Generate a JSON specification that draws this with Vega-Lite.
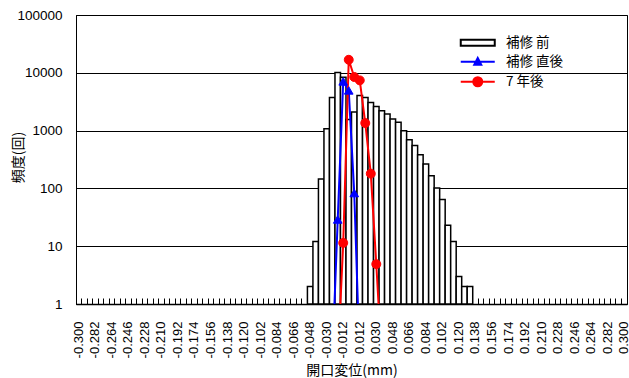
{
  "$schema": "https://vega.github.io/schema/vega-lite/v6.json",
  "width": 551,
  "height": 289,
  "autosize": {"type": "none"},
  "padding": {"left": 76, "top": 15, "right": 2, "bottom": 74},
  "background": "white",
  "config": {
    "view": {"stroke": "black", "strokeWidth": 1},
    "axis": {"labelFont": "Liberation Sans", "labelColor": "black", "titleFont": "Noto Sans CJK JP", "titleColor": "black", "titleFontWeight": "normal", "domainColor": "black", "tickColor": "black"},
    "legend": {
      "title": null,
      "orient": "none",
      "legendX": 395,
      "legendY": 21,
      "padding": 0,
      "symbolSize": 100,
      "symbolStrokeWidth": 2,
      "symbolOpacity": 1,
      "labelFont": "Noto Sans CJK JP",
      "labelFontSize": 13.5,
      "labelColor": "black",
      "labelOffset": 21.5,
      "rowPadding": 4
    }
  },
  "datasets": {
    "hist": [
      {"cat": "-0.048", "count": 2},
      {"cat": "-0.042", "count": 12},
      {"cat": "-0.036", "count": 146},
      {"cat": "-0.030", "count": 1080},
      {"cat": "-0.024", "count": 3750},
      {"cat": "-0.018", "count": 10100},
      {"cat": "-0.012", "count": 8400},
      {"cat": "-0.006", "count": 1550},
      {"cat": "0.006", "count": 2100},
      {"cat": "0.012", "count": 4050},
      {"cat": "0.018", "count": 3750},
      {"cat": "0.024", "count": 3075},
      {"cat": "0.030", "count": 2620},
      {"cat": "0.036", "count": 2210},
      {"cat": "0.042", "count": 1940},
      {"cat": "0.048", "count": 1590},
      {"cat": "0.054", "count": 1390},
      {"cat": "0.060", "count": 995},
      {"cat": "0.066", "count": 697},
      {"cat": "0.072", "count": 555},
      {"cat": "0.078", "count": 383},
      {"cat": "0.084", "count": 264},
      {"cat": "0.090", "count": 166},
      {"cat": "0.096", "count": 102},
      {"cat": "0.102", "count": 64},
      {"cat": "0.108", "count": 23},
      {"cat": "0.114", "count": 12},
      {"cat": "0.120", "count": 3},
      {"cat": "0.126", "count": 2},
      {"cat": "0.132", "count": 2}
    ],
    "lines": [
      {"series": "補修 直後", "cat": "-0.024", "count": 0.1},
      {"series": "補修 直後", "cat": "-0.018", "count": 29},
      {"series": "補修 直後", "cat": "-0.012", "count": 7100},
      {"series": "補修 直後", "cat": "-0.006", "count": 4960},
      {"series": "補修 直後", "cat": "0.006", "count": 83},
      {"series": "補修 直後", "cat": "0.012", "count": 0.1},
      {"series": "7 年後", "cat": "-0.018", "count": 0.1},
      {"series": "7 年後", "cat": "-0.012", "count": 11.4},
      {"series": "7 年後", "cat": "-0.006", "count": 16800},
      {"series": "7 年後", "cat": "0.006", "count": 8460},
      {"series": "7 年後", "cat": "0.012", "count": 7400},
      {"series": "7 年後", "cat": "0.018", "count": 1350},
      {"series": "7 年後", "cat": "0.024", "count": 180},
      {"series": "7 年後", "cat": "0.030", "count": 4.9},
      {"series": "7 年後", "cat": "0.036", "count": 0.1}
    ]
  },
  "encoding": {
    "x": {
      "field": "cat",
      "type": "ordinal",
      "sort": null,
      "scale": {
        "domain": ["-0.300","-0.294","-0.288","-0.282","-0.276","-0.270","-0.264","-0.258","-0.252","-0.246","-0.240","-0.234","-0.228","-0.222","-0.216","-0.210","-0.204","-0.198","-0.192","-0.186","-0.180","-0.174","-0.168","-0.162","-0.156","-0.150","-0.144","-0.138","-0.132","-0.126","-0.120","-0.114","-0.108","-0.102","-0.096","-0.090","-0.084","-0.078","-0.072","-0.066","-0.060","-0.054","-0.048","-0.042","-0.036","-0.030","-0.024","-0.018","-0.012","-0.006","0.006","0.012","0.018","0.024","0.030","0.036","0.042","0.048","0.054","0.060","0.066","0.072","0.078","0.084","0.090","0.096","0.102","0.108","0.114","0.120","0.126","0.132","0.138","0.144","0.150","0.156","0.162","0.168","0.174","0.180","0.186","0.192","0.198","0.204","0.210","0.216","0.222","0.228","0.234","0.240","0.246","0.252","0.258","0.264","0.270","0.276","0.282","0.288","0.294","0.300"],
        "paddingInner": 0,
        "paddingOuter": 0
      },
      "axis": {
        "title": "開口変位(mm)",
        "titleFontSize": 14,
        "titleY": 66,
        "titleBaseline": "middle",
        "labelExpr": "indexof(['-0.300','-0.282','-0.264','-0.246','-0.228','-0.210','-0.192','-0.174','-0.156','-0.138','-0.120','-0.102','-0.084','-0.066','-0.048','-0.030','-0.012','0.012','0.030','0.048','0.066','0.084','0.102','0.120','0.138','0.156','0.174','0.192','0.210','0.228','0.246','0.264','0.282','0.300'], datum.value) >= 0 ? datum.value : ''",
        "labelAngle": 270,
        "labelFontSize": 13,
        "labelPadding": 23,
        "labelOverlap": false,
        "ticks": true,
        "tickSize": -6,
        "tickWidth": 1,
        "bandPosition": 0,
        "domainWidth": 1.5,
        "grid": false
      }
    },
    "y": {
      "field": "count",
      "type": "quantitative",
      "scale": {"type": "log", "domain": [1, 100000], "nice": false},
      "axis": {
        "title": "頻度(回)",
        "titleFontSize": 14,
        "titleX": -58,
        "titleY": 142,
        "titleAngle": 270,
        "titleAlign": "center",
        "titleBaseline": "middle",
        "values": [1, 10, 100, 1000, 10000, 100000],
        "format": "d",
        "grid": true,
        "gridColor": "black",
        "gridWidth": 1,
        "ticks": false,
        "labelPadding": 14,
        "labelFontSize": 13.5,
        "domainWidth": 1
      }
    }
  },
  "layer": [
    {
      "data": {"name": "hist"},
      "mark": {"type": "bar", "fill": "white", "stroke": "black", "strokeWidth": 1.5},
      "encoding": {
        "y2": {"datum": 1}
      }
    },
    {
      "data": {"name": "lines"},
      "mark": {"type": "line", "strokeWidth": 2, "clip": true},
      "encoding": {
        "order": {"value": null},
        "stroke": {
          "field": "series",
          "type": "nominal",
          "scale": {"domain": ["補修 前", "補修 直後", "7 年後"], "range": ["black", "#0000ff", "#ff0000"]}
        }
      }
    },
    {
      "data": {"name": "lines"},
      "transform": [{"filter": "datum.series === '補修 直後' && datum.count >= 1"}],
      "mark": {"type": "point", "shape": "triangle-up", "filled": true, "size": 75, "fill": "#0000ff", "stroke": "#0000ff", "strokeWidth": 1, "opacity": 1}
    },
    {
      "data": {"name": "lines"},
      "transform": [{"filter": "datum.series === '7 年後' && datum.count >= 1"}],
      "mark": {"type": "point", "shape": "circle", "filled": true, "size": 80, "fill": "#ff0000", "stroke": "#ff0000", "strokeWidth": 1, "opacity": 1}
    },
    {
      "data": {"name": "lines"},
      "transform": [{"filter": "false"}],
      "mark": {"type": "point", "filled": true, "strokeWidth": 2, "opacity": 1},
      "encoding": {
        "shape": {
          "field": "series",
          "type": "nominal",
          "scale": {"domain": ["補修 前", "補修 直後", "7 年後"], "range": ["M-3.4,-0.6H3.4V0.6H-3.4Z", "M-3.4,0H3.4M0,-0.75L0.7,0.6L-0.7,0.6Z", "M-3.4,0H3.4M-0.9,0A0.9,0.9,0,1,0,0.9,0A0.9,0.9,0,1,0,-0.9,0Z"]}
        },
        "fill": {
          "field": "series",
          "type": "nominal",
          "scale": {"domain": ["補修 前", "補修 直後", "7 年後"], "range": ["white", "#0000ff", "#ff0000"]}
        },
        "stroke": {
          "field": "series",
          "type": "nominal"
        }
      }
    }
  ]
}
